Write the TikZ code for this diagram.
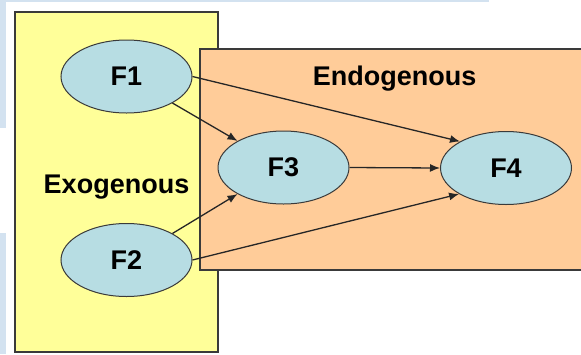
\documentclass[tikz,border=0pt]{standalone}
\usepackage{fontspec}
\setmainfont{Liberation Sans}
\usetikzlibrary{shapes.geometric,arrows.meta}
\definecolor{slideblue}{HTML}{D3E2F0}
\definecolor{exoyellow}{HTML}{FFFF99}
\definecolor{endoorange}{HTML}{FFCC99}
\definecolor{factorblue}{HTML}{B7DDE3}
\definecolor{edgegray}{HTML}{3A3A3A}
\tikzset{
  box/.style={draw=edgegray, line width=1.4pt},
  factor/.style={ellipse, draw=edgegray, line width=1pt, fill=factorblue,
    minimum width=131pt, minimum height=73pt, inner sep=0pt,
    font=\bfseries\fontsize{27}{30}\selectfont},
  lbl/.style={anchor=base, font=\bfseries\fontsize{27}{30}\selectfont},
  path/.style={draw=black!85, line width=1.3pt, -{Latex[length=10pt,width=8pt]}}
}
\begin{document}
\begin{tikzpicture}[x=1pt,y=-1pt]
\useasboundingbox (0,0) rectangle (581,354);
\clip (0,0) rectangle (581,354);
% slide background strips
\fill[slideblue] (0,0) rectangle (489,2);
\fill[slideblue] (0,0) rectangle (6,128);
\fill[slideblue] (0,233) rectangle (6,354);
% regions
\draw[box, fill=exoyellow] (15,12) rectangle (218,352);
\draw[box, fill=endoorange] (200,49) rectangle (590,270);
% labels
\node[lbl] (exo) at (116.5,193) {Exogenous};
\node[lbl] (endo) at (394.5,85) {Endogenous};
% factors
\node[factor] (F1) at (126.5,76.5) {F1};
\node[factor] (F2) at (126.5,260) {F2};
\node[factor] (F3) at (283.5,167.5) {F3};
\node[factor] (F4) at (506,168) {F4};
% paths
\draw[path] (F1.-30) -- (F3.150);
\draw[path] (F1.east) -- (F4.150.5);
\draw[path] (F2.30) -- (F3.210);
\draw[path] (F2.east) -- (F4.209);
\draw[path] (F3.east) -- (F4.west);
\end{tikzpicture}
\end{document}
